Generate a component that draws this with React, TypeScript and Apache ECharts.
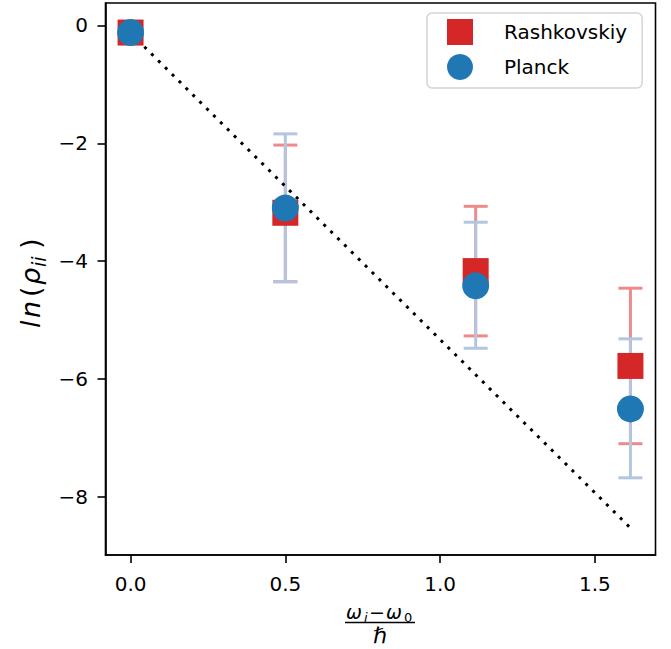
import React, { useEffect, useRef } from "react";
import * as echarts from "echarts";

// ---- data ----
const xValues = [0, 0.5, 1.115, 1.615];
const rashMean = [-0.12, -3.18, -4.17, -5.78];
const rashLow = [-0.12, -4.35, -5.27, -7.1];
const rashHigh = [-0.12, -2.03, -3.07, -4.46];
const planckMean = [-0.12, -3.1, -4.42, -6.51];
const planckLow = [-0.12, -4.35, -5.48, -7.68];
const planckHigh = [-0.12, -1.84, -3.34, -5.32];
const fitX = [0, 1.615];
const fitY = [-0.13, -8.53];

const xTicks = [0, 0.5, 1.0, 1.5];
const xTickLabels = ["0.0", "0.5", "1.0", "1.5"];
const yTicks = [0, -2, -4, -6, -8];
const yTickLabels = ["0", "\u22122", "\u22124", "\u22126", "\u22128"];

const seriesNames = ["Rashkovskiy", "Planck"];

const FONT = "DejaVu Sans";

export default function App() {
  const ref = useRef<HTMLDivElement>(null);

  useEffect(() => {
    document.body.style.margin = "0";
    if (!ref.current) return;
    const chart = echarts.init(ref.current, undefined, { renderer: "svg" });

    const errData = (low: number[], high: number[]) =>
      xValues.map((x, i) => [x, low[i], high[i]]);

    const errSeries = (name: string, low: number[], high: number[], color: string) => ({
      type: "custom",
      name,
      z: 2,
      data: errData(low, high),
      encode: { x: 0, y: [1, 2] },
      silent: true,
      renderItem: (params: any, api: any) => {
        const x = api.value(0);
        const lo = api.coord([x, api.value(1)]);
        const hi = api.coord([x, api.value(2)]);
        const half = 12;
        const st = { stroke: color, lineWidth: 3 };
        return {
          type: "group",
          children: [
            { type: "line", shape: { x1: lo[0], y1: lo[1], x2: hi[0], y2: hi[1] }, style: st },
            { type: "line", shape: { x1: lo[0] - half, y1: lo[1], x2: lo[0] + half, y2: lo[1] }, style: st },
            { type: "line", shape: { x1: hi[0] - half, y1: hi[1], x2: hi[0] + half, y2: hi[1] }, style: st },
          ],
        };
      },
    });

    const txt = (text: string, x: number, y: number, size: number, italic: boolean, align = "left") => ({
      type: "text",
      x,
      y,
      style: {
        text,
        fill: "#000",
        fontSize: size,
        fontFamily: FONT,
        fontStyle: italic ? "italic" : "normal",
        textAlign: align,
        textVerticalAlign: "middle",
        verticalAlign: "middle",
      },
      silent: true,
    });

    // y label: ln(rho_ii), rotated, baseline at local y = 0
    const B = 27;
    const S = 19;
    const bm = -0.3 * B;
    const sm = 6 - 0.3 * S;
    const yLabel = {
      type: "group",
      x: 39,
      y: 329,
      rotation: Math.PI / 2,
      children: [
        txt("l", 1, bm, B, true),
        txt("n", 11, bm, B, true),
        txt("(", 32, bm, B, false),
        txt("\u03c1", 44, bm, B, true),
        txt("ii", 62, sm, S, true),
        txt(")", 80, bm, B, false),
      ],
    };

    // x label: (omega_i - omega_0) / hbar
    const N = 19;
    const NS = 13;
    const xLabel = {
      type: "group",
      children: [
        txt("\u03c9", 346, 617.5 - 0.3 * N, N, true),
        txt("i", 364, 621.5 - 0.3 * NS, NS, true),
        txt("\u2212", 369, 617.5 - 0.3 * N, N, false),
        txt("\u03c9", 386, 617.5 - 0.3 * N, N, true),
        txt("0", 404, 621.5 - 0.3 * NS, NS, false),
        {
          type: "line",
          shape: { x1: 345, y1: 622.5, x2: 415, y2: 622.5 },
          style: { stroke: "#000", lineWidth: 1.3 },
          silent: true,
        },
        txt("\u210f", 380, 642 - 0.3 * 22, 22, true, "center"),
      ],
    };

    chart.setOption({
      animation: false,
      backgroundColor: "#fff",
      grid: {
        left: 105.5,
        right: 15.5,
        top: 3,
        bottom: 94,
        show: true,
        borderColor: "#000",
        borderWidth: 1.6,
        containLabel: false,
      },
      xAxis: {
        type: "value",
        min: -0.081,
        max: 1.696,
        axisLine: { show: true, onZero: false, lineStyle: { color: "#000", width: 1.6 } },
        axisTick: { show: true, length: 8, customValues: xTicks, lineStyle: { color: "#000", width: 1.6 } },
        axisLabel: {
          customValues: xTicks,
          margin: 19,
          color: "#000",
          fontFamily: FONT,
          fontSize: 20,
          formatter: (v: number) => {
            const i = xTicks.findIndex((t) => Math.abs(t - v) < 1e-9);
            return i >= 0 ? xTickLabels[i] : "";
          },
        },
        splitLine: { show: false },
      },
      yAxis: {
        type: "value",
        min: -8.99,
        max: 0.382,
        axisLine: { show: true, onZero: false, lineStyle: { color: "#000", width: 1.6 } },
        axisTick: { show: true, length: 8, customValues: yTicks, lineStyle: { color: "#000", width: 1.6 } },
        axisLabel: {
          customValues: yTicks,
          margin: 17.5,
          color: "#000",
          fontFamily: FONT,
          fontSize: 20,
          formatter: (v: number) => {
            const i = yTicks.findIndex((t) => Math.abs(t - v) < 1e-9);
            return i >= 0 ? yTickLabels[i] : "";
          },
        },
        splitLine: { show: false },
      },
      legend: {
        data: [
          { name: seriesNames[0], icon: "rect" },
          { name: seriesNames[1], icon: "circle" },
        ],
        orient: "vertical",
        left: 427,
        top: 13,
        itemWidth: 26,
        itemHeight: 26,
        itemGap: 9,
        padding: [6, 15, 8, 20],
        borderColor: "#d4d4d4",
        borderWidth: 1.5,
        borderRadius: 5,
        backgroundColor: "#fff",
        textStyle: {
          fontFamily: FONT,
          fontSize: 20,
          color: "#000",
          padding: [0, 0, 0, 26],
        },
        selectedMode: false,
      },
      graphic: [yLabel, xLabel],
      series: [
        errSeries("rashErr", rashLow, rashHigh, "#ee8a8a"),
        errSeries("planckErr", planckLow, planckHigh, "#b3c6e0"),
        {
          type: "line",
          name: "fit",
          z: 2,
          data: fitX.map((x, i) => [x, fitY[i]]),
          showSymbol: false,
          symbol: "none",
          lineStyle: { color: "#000", width: 3, type: [3, 6.7] },
          silent: true,
        },
        {
          type: "scatter",
          name: seriesNames[0],
          z: 2,
          data: xValues.map((x, i) => [x, rashMean[i]]),
          symbol: "rect",
          symbolSize: 26,
          itemStyle: { color: "#d62728", opacity: 1 },
        },
        {
          type: "scatter",
          name: seriesNames[1],
          z: 2,
          data: xValues.map((x, i) => [x, planckMean[i]]),
          symbol: "circle",
          symbolSize: 27,
          itemStyle: { color: "#1f77b4", opacity: 1 },
        },
      ],
    });

    return () => chart.dispose();
  }, []);

  return (
    <div
      ref={ref}
      style={{ position: "absolute", left: 0, top: 0, width: 671, height: 649 }}
    />
  );
}
